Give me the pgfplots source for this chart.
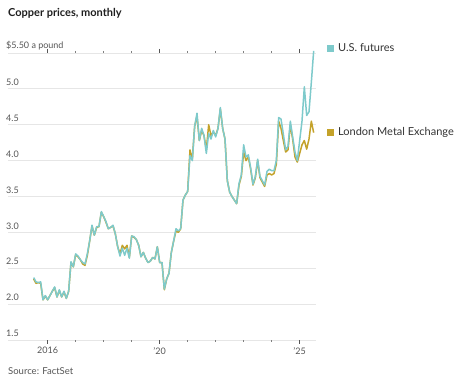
\documentclass[border=0pt]{standalone}
\usepackage{pgfplots}
\pgfplotsset{compat=1.18}
\usepackage{pgfplotstable}
\usepackage{fontspec}
\setmainfont{Lato}
\definecolor{usc}{HTML}{7ECACB}
\definecolor{lmec}{HTML}{C4A22A}
\definecolor{gridc}{HTML}{E6E6E6}
\definecolor{tickc}{HTML}{555555}
\definecolor{legc}{HTML}{333333}

% month index m: 0 = Jul 2015 ... 120 = Jul 2025
\pgfplotstableread{
m us lme
0 2.37 2.35
1 2.31 2.29
2 2.30 2.30
3 2.31 2.29
4 2.06 2.06
5 2.12 2.11
6 2.06 2.06
7 2.12 2.12
8 2.18 2.18
9 2.24 2.23
10 2.10 2.10
11 2.20 2.19
12 2.10 2.10
13 2.18 2.17
14 2.08 2.08
15 2.18 2.18
16 2.59 2.58
17 2.52 2.52
18 2.70 2.69
19 2.67 2.66
20 2.62 2.62
21 2.58 2.56
22 2.56 2.54
23 2.70 2.68
24 2.88 2.88
25 3.10 3.09
26 2.96 2.96
27 3.08 3.07
28 3.08 3.08
29 3.29 3.28
30 3.22 3.22
31 3.15 3.14
32 3.05 3.05
33 3.07 3.07
34 3.10 3.09
35 2.98 2.98
36 2.80 2.80
37 2.67 2.70
38 2.78 2.82
39 2.68 2.77
40 2.78 2.82
41 2.64 2.65
42 2.95 2.95
43 2.94 2.93
44 2.90 2.90
45 2.82 2.82
46 2.66 2.66
47 2.72 2.72
48 2.64 2.64
49 2.58 2.58
50 2.60 2.60
51 2.65 2.65
52 2.63 2.63
53 2.80 2.80
54 2.58 2.58
55 2.58 2.58
56 2.21 2.20
57 2.35 2.35
58 2.43 2.43
59 2.72 2.72
60 2.88 2.88
61 3.05 3.02
62 3.02 3.00
63 3.05 3.05
64 3.45 3.45
65 3.52 3.52
66 3.57 3.57
67 4.07 4.15
68 4.00 4.02
69 4.48 4.48
70 4.66 4.62
71 4.28 4.28
72 4.45 4.42
73 4.35 4.35
74 4.10 4.15
75 4.38 4.50
76 4.30 4.35
77 4.42 4.40
78 4.33 4.35
79 4.45 4.45
80 4.74 4.72
81 4.45 4.45
82 4.30 4.30
83 3.72 3.72
84 3.56 3.56
85 3.50 3.50
86 3.45 3.45
87 3.40 3.40
88 3.68 3.66
89 3.80 3.78
90 4.22 4.12
91 4.05 4.00
92 4.08 4.05
93 3.90 3.88
94 3.67 3.66
95 3.78 3.76
96 4.02 4.00
97 3.78 3.76
98 3.72 3.70
99 3.66 3.64
100 3.85 3.80
101 3.88 3.82
102 3.86 3.80
103 3.86 3.82
104 4.00 3.95
105 4.60 4.55
106 4.58 4.45
107 4.37 4.28
108 4.15 4.12
109 4.20 4.15
110 4.55 4.50
111 4.33 4.30
112 4.12 4.05
113 4.00 3.98
114 4.28 4.10
115 4.55 4.22
116 5.03 4.28
117 4.63 4.16
118 4.68 4.30
119 5.09 4.55
120 5.53 4.39
}\copper

\begin{document}
\begin{tikzpicture}
\useasboundingbox (0,0) rectangle (474pt,382pt);
\begin{axis}[
  at={(8pt,42pt)}, anchor=south west,
  width=308pt, height=287pt, scale only axis,
  xmin=-11, xmax=121, ymin=1.5, ymax=5.5,
  axis line style={draw=none},
  clip=false,
  ytick={1.5,2,2.5,3,3.5,4,4.5,5,5.5},
  yticklabels={1.5,2.0,2.5,3.0,3.5,4.0,4.5,5.0,{\$5.50 a pound}},
  ymajorgrids,
  grid style={color=gridc, line width=0.8pt},
  ytick style={draw=none},
  yticklabel style={anchor=south west, inner sep=0pt, xshift=2pt, yshift=3pt, font=\fontsize{9}{10}\selectfont, text=tickc},
  xtick={6,54,114},
  xticklabels={2016,’20,’25},
  minor xtick={18,30,42,66,78,90,102},
  tick align=outside,
  major tick length=4pt,
  minor tick length=2pt,
  xtick style={color=tickc, line width=0.7pt},
  minor x tick style={color=gray, line width=0.6pt},
  xticklabel style={font=\fontsize{9}{10}\selectfont, text=tickc, inner sep=1pt, yshift=-2pt},
]
\addplot[lmec, line width=1.5pt, line join=round] table[x=m, y=lme] {\copper};
\addplot[usc, line width=1.5pt, line join=round] table[x=m, y=us] {\copper};
\end{axis}
\node[anchor=base west, inner sep=0pt, font=\fontsize{11}{13}\selectfont\bfseries, text=black!88] at (8pt,365pt) {Copper prices, monthly};
\node[anchor=base west, inner sep=0pt, font=\fontsize{9.5}{11}\selectfont, text=tickc] at (8pt,7pt) {Source: FactSet};
\node[anchor=base west, inner sep=0pt, font=\fontsize{11}{13}\selectfont, text=legc] at (327pt,330.4pt) {\textcolor{usc}{\rule{7pt}{7pt}}\hspace{4pt}U.S. futures};
\node[anchor=base west, inner sep=0pt, font=\fontsize{11}{13}\selectfont, text=legc] at (327pt,246.4pt) {\textcolor{lmec}{\rule{7pt}{7pt}}\hspace{4pt}London Metal Exchange};
\end{tikzpicture}
\end{document}
